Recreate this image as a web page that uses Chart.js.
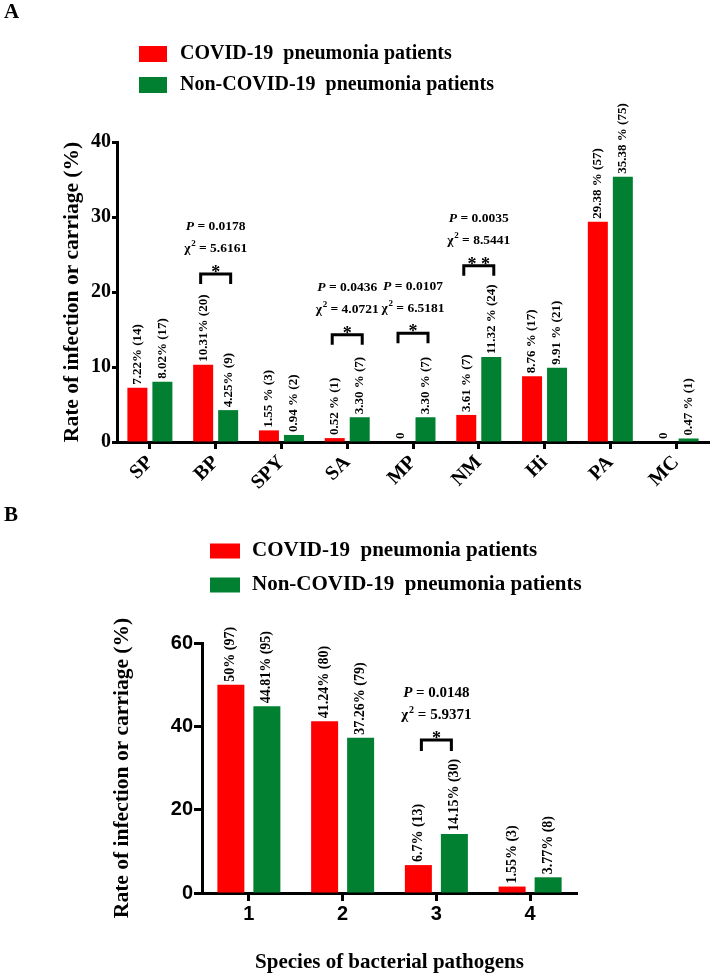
<!DOCTYPE html>
<html>
<head>
<meta charset="utf-8">
<script src="https://cdn.jsdelivr.net/npm/chart.js@4.4.1/dist/chart.umd.min.js"></script>
<style>
  html, body { margin: 0; padding: 0; background: #fff; }
  #wrapA { position: absolute; left: 0; top: 0; width: 711px; height: 505px; }
  #wrapB { position: absolute; left: 0; top: 505px; width: 711px; height: 470px; }
</style>
</head>
<body>
<div id="wrapA"><canvas id="chartA"></canvas></div>
<div id="wrapB"><canvas id="chartB"></canvas></div>
<script>
const seriesNames = ['COVID-19  pneumonia patients', 'Non-COVID-19  pneumonia patients'];

// panel A: pathogens
const pathogensA = ['SP', 'BP', 'SPY', 'SA', 'MP', 'NM', 'Hi', 'PA', 'MC'];
const covidA = [7.22, 10.31, 1.55, 0.52, 0, 3.61, 8.76, 29.38, 0];
const nonCovidA = [8.02, 4.25, 0.94, 3.30, 3.30, 11.32, 9.91, 35.38, 0.47];
const covidLabelsA = ['7.22% (14)', '10.31% (20)', '1.55 % (3)', '0.52 % (1)', '0', '3.61 % (7)', '8.76 % (17)', '29.38 % (57)', '0'];
const nonCovidLabelsA = ['8.02% (17)', '4.25% (9)', '0.94 % (2)', '3.30 % (7)', '3.30 % (7)', '11.32 % (24)', '9.91 % (21)', '35.38 % (75)', '0.47 % (1)'];
const yTicksA = [0, 10, 20, 30, 40];
const testsA = [
  { cat: 'BP', p: '0.0178', chi: '5.6161', stars: '*' },
  { cat: 'SA', p: '0.0436', chi: '4.0721', stars: '*' },
  { cat: 'MP', p: '0.0107', chi: '6.5181', stars: '*' },
  { cat: 'NM', p: '0.0035', chi: '8.5441', stars: '* *' }
];

// panel B: number of species
const speciesB = ['1', '2', '3', '4'];
const covidB = [50, 41.24, 6.7, 1.55];
const nonCovidB = [44.81, 37.26, 14.15, 3.77];
const covidLabelsB = ['50% (97)', '41.24% (80)', '6.7% (13)', '1.55% (3)'];
const nonCovidLabelsB = ['44.81% (95)', '37.26% (79)', '14.15% (30)', '3.77% (8)'];
const yTicksB = [0, 20, 40, 60];
const testsB = [
  { cat: '3', p: '0.0148', chi: '5.9371', stars: '*' }
];

// where the brackets sit (axis units)
const bracketAtA = { BP: 22.4, SA: 14.3, MP: 14.5, NM: 23.5 };
const bracketAtB = { '3': 36.7 };

const RED = '#ff0000';
const GREEN = 'rgb(0,128,48)';
const SERIF = '"Liberation Serif", "Times New Roman", serif';
const SANS = '"Liberation Sans", Arial, sans-serif';

// rotated value labels above each bar
const barLabels = {
  id: 'barLabels',
  afterDatasetsDraw(chart, args, opts) {
    const ctx = chart.ctx;
    ctx.save();
    ctx.font = 'bold ' + opts.size + 'px ' + SERIF;
    ctx.fillStyle = '#000';
    ctx.textAlign = 'left';
    ctx.textBaseline = 'middle';
    chart.data.datasets.forEach((ds, di) => {
      chart.getDatasetMeta(di).data.forEach((bar, i) => {
        ctx.save();
        ctx.translate(bar.x, bar.y - 3);
        ctx.rotate(-Math.PI / 2);
        ctx.fillText(ds.valueLabels[i], 0, 0);
        ctx.restore();
      });
    });
    ctx.restore();
  }
};

// legend boxes stacked one per line, plus panel letter
const boxLegend = {
  id: 'boxLegend',
  afterDraw(chart, args, o) {
    const ctx = chart.ctx;
    ctx.save();
    ctx.textBaseline = 'middle';
    ctx.textAlign = 'left';
    ctx.font = 'bold ' + o.size + 'px ' + SERIF;
    chart.data.datasets.forEach((ds, i) => {
      const cy = o.y + i * o.gap;
      ctx.fillStyle = ds.backgroundColor;
      ctx.fillRect(o.x, cy - o.boxH / 2, o.boxW, o.boxH);
      ctx.fillStyle = '#000';
      ctx.fillText(ds.label, o.textX, cy);
    });
    ctx.font = 'bold 21px ' + SERIF;
    ctx.fillText(o.panel, 4, o.panelY);
    ctx.restore();
  }
};

function drawRuns(ctx, cx, cy, runs) {
  let w = 0;
  runs.forEach(r => { ctx.font = r[0]; w += ctx.measureText(r[1]).width; });
  let x = cx - w / 2;
  runs.forEach(r => {
    ctx.font = r[0];
    ctx.fillText(r[1], x, cy + r[2]);
    x += ctx.measureText(r[1]).width;
  });
}

// significance brackets with P and chi-square
const sigMarks = {
  id: 'sigMarks',
  afterDraw(chart, args, o) {
    const xs = chart.scales.x, ys = chart.scales.y, ctx = chart.ctx;
    const bold = 'bold ' + o.size + 'px ' + SERIF;
    const ital = 'italic bold ' + o.size + 'px ' + SERIF;
    const sup = 'bold ' + Math.round(o.size * 0.65) + 'px ' + SERIF;
    ctx.save();
    ctx.fillStyle = '#000';
    ctx.strokeStyle = '#000';
    o.tests.forEach(t => {
      const cx = xs.getPixelForValue(xs.getLabels().indexOf(t.cat));
      const top = ys.getPixelForValue(o.levels[t.cat]);
      ctx.lineWidth = 3;
      ctx.beginPath();
      ctx.moveTo(cx - o.half, top + o.leg);
      ctx.lineTo(cx - o.half, top);
      ctx.lineTo(cx + o.half, top);
      ctx.lineTo(cx + o.half, top + o.leg);
      ctx.stroke();
      ctx.font = 'bold 18px ' + SERIF;
      ctx.textAlign = 'center';
      ctx.textBaseline = 'alphabetic';
      ctx.fillText(t.stars, cx, top + 4);
      ctx.textAlign = 'left';
      ctx.textBaseline = 'middle';
      drawRuns(ctx, cx, top - 47, [[ital, 'P', 0], [bold, ' = ' + t.p, 0]]);
      drawRuns(ctx, cx, top - 25, [[bold, '\u03C7', 0], [sup, '\u200A2', -5], [bold, ' = ' + t.chi, 0]]);
    });
    ctx.restore();
  }
};

function axisStyle(tickLen) {
  return {
    grid: { offset: false, drawOnChartArea: false, drawTicks: true, tickLength: tickLen, tickWidth: 3, color: '#000' },
    border: { color: '#000', width: 3 }
  };
}

new Chart(document.getElementById('chartA'), {
  type: 'bar',
  data: {
    labels: pathogensA,
    datasets: [
      { label: seriesNames[0], data: covidA, backgroundColor: RED, valueLabels: covidLabelsA },
      { label: seriesNames[1], data: nonCovidA, backgroundColor: GREEN, valueLabels: nonCovidLabelsA }
    ]
  },
  options: {
    responsive: true,
    maintainAspectRatio: false,
    animation: false,
    datasets: { bar: { categoryPercentage: 0.76, barPercentage: 0.8 } },
    layout: { padding: { left: 0, right: 2, top: 142, bottom: 0 } },
    plugins: {
      legend: { display: false },
      tooltip: { enabled: false },
      barLabels: { size: 13 },
      boxLegend: { x: 139, boxW: 28, boxH: 16, textX: 180, y: 54, gap: 31, size: 20, panel: 'A', panelY: 13 },
      sigMarks: { tests: testsA, levels: bracketAtA, half: 15, leg: 10, size: 13.5 }
    },
    scales: {
      x: Object.assign(axisStyle(7), {
        z: 1,
        offset: true,
        ticks: { color: '#000', font: { family: SERIF, size: 20, weight: 'bold' }, minRotation: 45, maxRotation: 45, padding: 2, autoSkip: false },
        afterFit: s => { s.height = 63; }
      }),
      y: Object.assign(axisStyle(5), {
        z: 1,
        min: 0,
        max: 40,
        afterBuildTicks: s => { s.ticks = yTicksA.map(v => ({ value: v })); },
        ticks: { color: '#000', font: { family: SERIF, size: 20, weight: 'bold' }, padding: 1 },
        title: { display: true, text: 'Rate of infection or carriage (%)', color: '#000', font: { family: SERIF, size: 21.5, weight: 'bold' }, padding: { top: 60, bottom: 0 } },
        afterFit: s => { s.width = 117; }
      })
    }
  },
  plugins: [barLabels, boxLegend, sigMarks]
});

new Chart(document.getElementById('chartB'), {
  type: 'bar',
  data: {
    labels: speciesB,
    datasets: [
      { label: seriesNames[0], data: covidB, backgroundColor: RED, valueLabels: covidLabelsB },
      { label: seriesNames[1], data: nonCovidB, backgroundColor: GREEN, valueLabels: nonCovidLabelsB }
    ]
  },
  options: {
    responsive: true,
    maintainAspectRatio: false,
    animation: false,
    datasets: { bar: { categoryPercentage: 0.768, barPercentage: 0.75 } },
    layout: { padding: { left: 0, right: 134, top: 138, bottom: 0 } },
    plugins: {
      legend: { display: false },
      tooltip: { enabled: false },
      barLabels: { size: 14 },
      boxLegend: { x: 210, boxW: 30, boxH: 15, textX: 252, y: 46, gap: 34, size: 21, panel: 'B', panelY: 11 },
      sigMarks: { tests: testsB, levels: bracketAtB, half: 15, leg: 11, size: 15 }
    },
    scales: {
      x: Object.assign(axisStyle(8), {
        z: 1,
        offset: true,
        ticks: { color: '#000', font: { family: SANS, size: 20, weight: 'bold' }, maxRotation: 0, padding: 1 },
        title: { display: true, text: 'Species of bacterial pathogens', color: '#000', font: { family: SERIF, size: 21, weight: 'bold' }, padding: { top: 0, bottom: 0 } },
        afterFit: s => { s.height = 82; }
      }),
      y: Object.assign(axisStyle(8), {
        z: 1,
        min: 0,
        max: 60,
        afterBuildTicks: s => { s.ticks = yTicksB.map(v => ({ value: v })); },
        ticks: { color: '#000', font: { family: SANS, size: 20, weight: 'bold' }, padding: 1 },
        title: { display: true, text: 'Rate of infection or carriage (%)', color: '#000', font: { family: SERIF, size: 21.5, weight: 'bold' }, padding: { top: 110, bottom: 0 } },
        afterFit: s => { s.width = 202; }
      })
    }
  },
  plugins: [barLabels, boxLegend, sigMarks]
});
</script>
</body>
</html>
